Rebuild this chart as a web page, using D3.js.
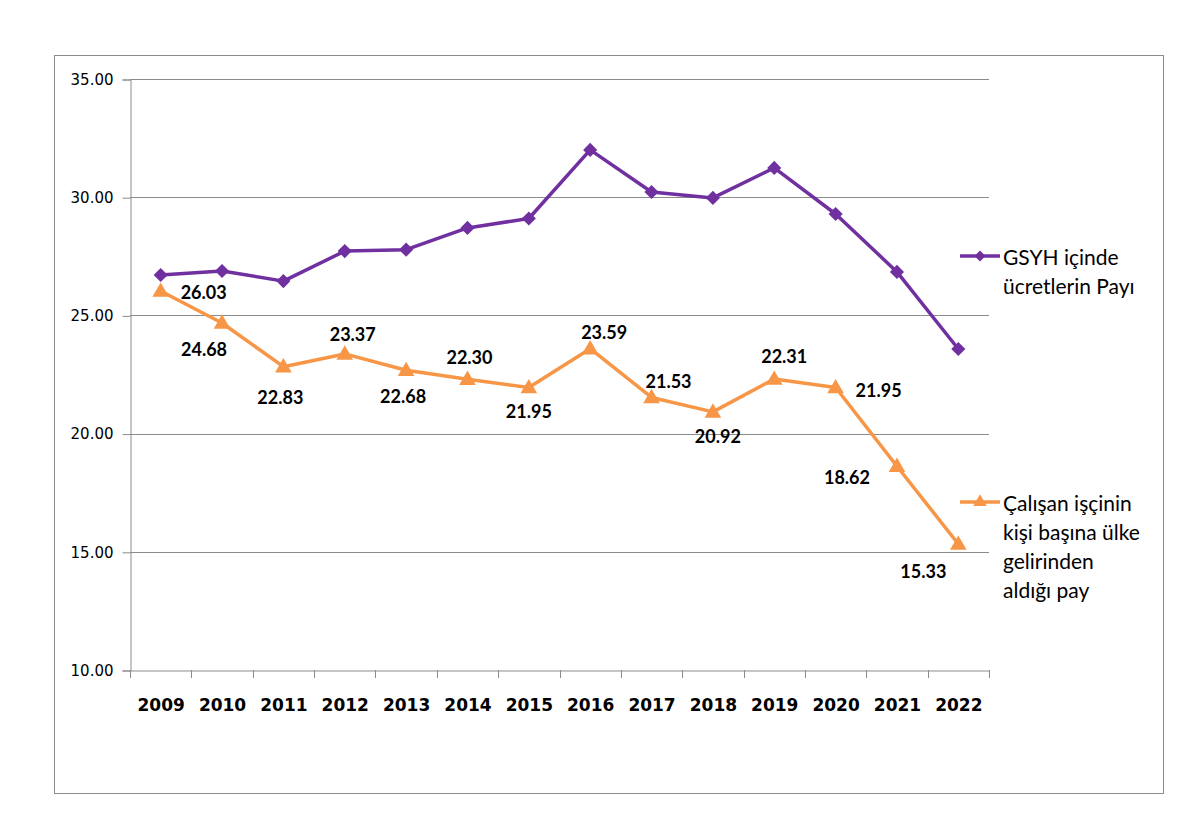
<!DOCTYPE html>
<html><head><meta charset="utf-8">
<script src="https://cdn.jsdelivr.net/npm/d3@7"></script>
<style>body{margin:0;background:#fff;} svg{display:block;}</style>
</head><body>
<svg id="chart" width="1200" height="820"></svg>
<script>
const years = ["2009","2010","2011","2012","2013","2014","2015","2016","2017","2018","2019","2020","2021","2022"];
const gsyhShare = [26.71, 26.88, 26.45, 27.72, 27.78, 28.70, 29.10, 32.00, 30.22, 29.97, 31.24, 29.29, 26.84, 23.58];
const workerShare = [26.03, 24.68, 22.83, 23.37, 22.68, 22.30, 21.95, 23.59, 21.53, 20.92, 22.31, 21.95, 18.62, 15.33];
const yTicks = [10, 15, 20, 25, 30, 35];
const seriesNames = [["GSYH içinde", "ücretlerin Payı"], ["Çalışan işçinin", "kişi başına ülke", "gelirinden", "aldığı pay"]];
// label placement (layout only)
const labelOffsets = [[43,1],[-18,26],[-3,30],[8,-20],[-3,26],[2,-22],[0,23],[14,-17],[17,-16],[5,24],[10,-23],[43,2],[-50,11],[-35,27]];

const svg = d3.select("#chart");
const purple = "#7030A0", orange = "#F79646";
const m = {left:130, right:989, top:79, bottom:670};

svg.append("rect").attr("x",54.5).attr("y",55.5).attr("width",1109).attr("height",738)
  .attr("fill","none").attr("stroke","#8c8c8c").attr("stroke-width",1);

const x = d3.scaleBand().domain(years).range([m.left, m.right]);
const y = d3.scaleLinear().domain([10,35]).range([m.bottom, m.top]);

// gridlines
svg.append("g").selectAll("line").data(yTicks.filter(d=>d>10)).join("line")
  .attr("x1",m.left).attr("x2",m.right).attr("y1",d=>Math.round(y(d))+0.5).attr("y2",d=>Math.round(y(d))+0.5)
  .attr("stroke","#8c8c8c").attr("stroke-width",1);

// y axis
const yAxis = svg.append("g").attr("transform",`translate(${m.left+0.5},0.5)`)
  .call(d3.axisLeft(y).tickValues(yTicks).tickFormat(d3.format(".2f")).tickSize(8).tickPadding(9));
yAxis.selectAll("path,line").attr("stroke","#8c8c8c");
yAxis.selectAll("text").attr("font-family","'DejaVu Sans', Verdana, sans-serif").attr("font-size",15).attr("fill","#000");

// x axis
const xAxis = svg.append("g").attr("transform",`translate(0.5,${m.bottom+0.5})`)
  .call(d3.axisBottom(x).tickSize(0).tickPadding(28));
xAxis.select("path").attr("stroke","#8c8c8c");
xAxis.selectAll("text").attr("font-family","'DejaVu Sans', Verdana, sans-serif").attr("font-size",17).attr("font-weight","bold").attr("fill","#000");
// category boundary ticks
svg.append("g").selectAll("line").data(years.concat(["end"])).join("line")
  .attr("x1",(d,i)=>Math.round(m.left + i*x.step())+0.5).attr("x2",(d,i)=>Math.round(m.left + i*x.step())+0.5)
  .attr("y1",m.bottom).attr("y2",m.bottom+8).attr("stroke","#8c8c8c");

const cx = d => x(d) + x.bandwidth()/2;
const line = d3.line().x((d,i)=>cx(years[i])).y(d=>y(d));

// purple series
svg.append("path").datum(gsyhShare).attr("d",line).attr("fill","none")
  .attr("stroke",purple).attr("stroke-width",3.5).attr("stroke-linejoin","round");
svg.append("g").selectAll("path").data(gsyhShare).join("path")
  .attr("d",d3.symbol(d3.symbolSquare, 100))
  .attr("transform",(d,i)=>`translate(${cx(years[i])},${y(d)}) rotate(45)`)
  .attr("fill",purple);

// orange series
svg.append("path").datum(workerShare).attr("d",line).attr("fill","none")
  .attr("stroke",orange).attr("stroke-width",3.5).attr("stroke-linejoin","round");
svg.append("g").selectAll("path").data(workerShare).join("path")
  .attr("d",d3.symbol(d3.symbolTriangle, 120))
  .attr("transform",(d,i)=>`translate(${cx(years[i])},${y(d)+1})`)
  .attr("fill",orange);

// data labels
svg.append("g").selectAll("text").data(workerShare).join("text")
  .attr("x",(d,i)=>cx(years[i])+labelOffsets[i][0])
  .attr("y",(d,i)=>y(d)+labelOffsets[i][1])
  .attr("text-anchor","middle").attr("dominant-baseline","central")
  .attr("font-family","Lato, 'Open Sans', sans-serif").attr("font-weight","bold").attr("font-size",18)
  .attr("fill","#000").text(d=>d3.format(".2f")(d));

// legend
const legendY = [256, 502];
const colors = [purple, orange];
seriesNames.forEach((lines, k) => {
  const g = svg.append("g");
  g.append("line").attr("x1",960).attr("x2",1000).attr("y1",legendY[k]).attr("y2",legendY[k])
    .attr("stroke",colors[k]).attr("stroke-width",3.5);
  if (k===0) {
    g.append("path").attr("d",d3.symbol(d3.symbolSquare,60)).attr("transform",`translate(980,${legendY[k]}) rotate(45)`).attr("fill",colors[k]);
  } else {
    g.append("path").attr("d",d3.symbol(d3.symbolTriangle,80)).attr("transform",`translate(980,${legendY[k]})`).attr("fill",colors[k]);
  }
  g.selectAll("text").data(lines).join("text")
    .attr("x",1003).attr("y",(d,i)=>legendY[k]+i*29).attr("dominant-baseline","central")
    .attr("font-family","Lato, 'Open Sans', sans-serif").attr("font-size",21).attr("fill","#000").text(d=>d);
});
</script>
</body></html>
